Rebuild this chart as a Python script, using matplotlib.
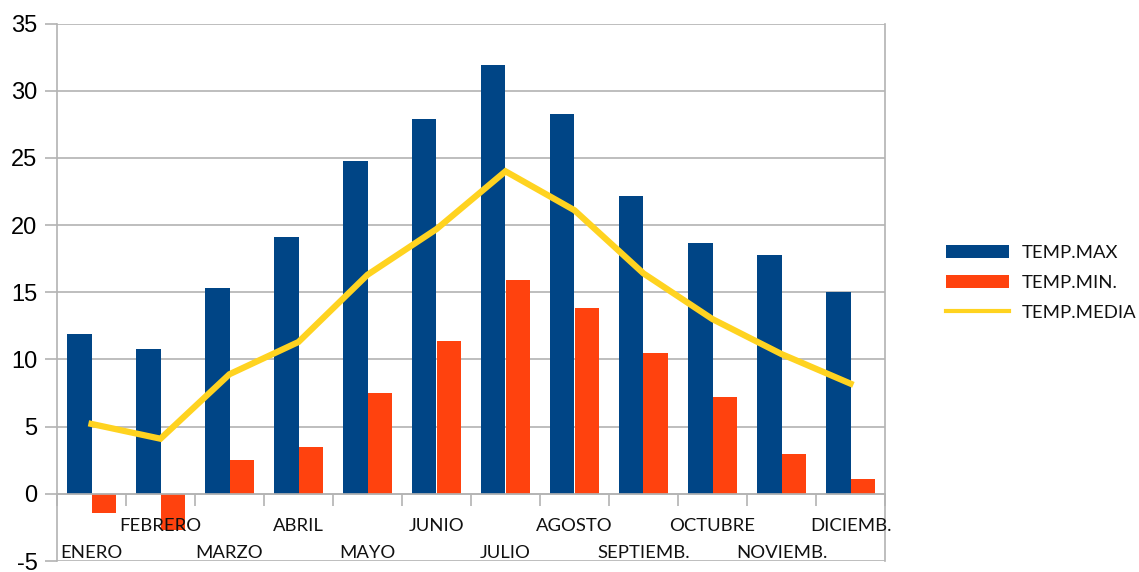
import numpy as np
import matplotlib
matplotlib.use("Agg")
import matplotlib.pyplot as plt

meses = ["ENERO", "FEBRERO", "MARZO", "ABRIL", "MAYO", "JUNIO", "JULIO",
         "AGOSTO", "SEPTIEMB.", "OCTUBRE", "NOVIEMB.", "DICIEMB."]
temp_max = [11.9, 10.8, 15.3, 19.1, 24.8, 27.9, 31.9, 28.3, 22.2, 18.7, 17.8, 15.0]
temp_min = [-1.4, -2.7, 2.5, 3.5, 7.5, 11.4, 15.9, 13.8, 10.5, 7.2, 3.0, 1.1]
temp_media = [5.2, 4.1, 8.9, 11.3, 16.3, 19.7, 24.0, 21.1, 16.4, 13.0, 10.4, 8.2]

AZUL = "#004586"
NARANJA = "#ff420e"
AMARILLO = "#ffd320"
GRIS = "#b3b3b3"

plt.rcParams["font.family"] = ["Liberation Sans", "DejaVu Sans"]
plt.rcParams["axes.unicode_minus"] = False

W, H = 1139, 572
fig = plt.figure(figsize=(W / 100, H / 100), dpi=100)
ax = fig.add_axes([57 / W, 1 - 561 / H, (885 - 57) / W, (561 - 23.5) / H])

x = np.arange(len(meses))
bw = 0.348
b1 = ax.bar(x - bw / 2, temp_max, bw, color=AZUL, label="TEMP.MAX", zorder=2)
b2 = ax.bar(x + bw / 2, temp_min, bw, color=NARANJA, label="TEMP.MIN.", zorder=2)
l1, = ax.plot(x, temp_media, color=AMARILLO, lw=4.5, label="TEMP.MEDIA",
              zorder=3, solid_joinstyle="miter")

ax.set_xlim(-0.5, len(meses) - 0.5)
ax.set_ylim(-5, 35)
ax.set_yticks(np.arange(-5, 36, 5))
ax.yaxis.grid(True, color=GRIS, lw=1.2, zorder=0)
ax.set_axisbelow(True)

ax.spines["top"].set_visible(False)
for s in ["left", "right", "bottom"]:
    ax.spines[s].set_color(GRIS)
    ax.spines[s].set_linewidth(1.2)
ax.spines["bottom"].set_position(("data", 0))
ax.spines["bottom"].set_zorder(2.5)

ax.tick_params(axis="y", length=8.6, width=1.2, color=GRIS, pad=5.5,
               labelsize=17, labelcolor="#000000")

# marcas del eje x en los límites de cada mes
ax.set_xticks(np.arange(-0.5, len(meses), 1.0))
ax.set_xticklabels([])
ax.tick_params(axis="x", length=8.6, width=1.2, color=GRIS, direction="out")

# etiquetas de los meses en dos filas alternas
for i, m in enumerate(meses):
    off = -42.6 if i % 2 == 0 else -23.2
    ax.annotate(m, xy=(i, 0), xytext=(0, off), textcoords="offset points",
                ha="center", va="center", fontsize=13.3, family="Lato",
                color="#111111", annotation_clip=False)

leg = fig.legend([b1, b2, l1], ["TEMP.MAX", "TEMP.MIN.", "TEMP.MEDIA"],
                 loc="center left", bbox_to_anchor=(946 / W, 1 - 283 / H),
                 frameon=False, prop={"family": "Lato", "size": 13.3},
                 handlelength=3.4, handleheight=0.7, handletextpad=0.7,
                 labelspacing=0.75, borderpad=0, borderaxespad=0)
for t in leg.get_texts():
    t.set_color("#111111")
leg.get_lines()[0].set_linewidth(3)

fig.savefig("out.png", dpi=100)
